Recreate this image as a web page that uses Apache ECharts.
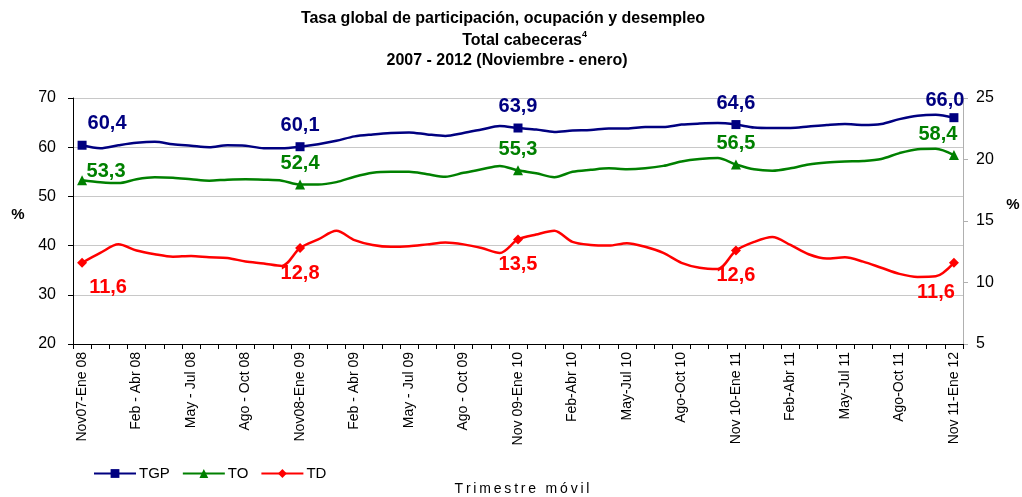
<!DOCTYPE html>
<html>
<head>
<meta charset="utf-8">
<script src="https://cdn.jsdelivr.net/npm/echarts@6/dist/echarts.min.js"></script>
<style>html,body{margin:0;padding:0;background:#fff}#c{width:1022px;height:497px}</style>
</head>
<body>
<div id="c"></div>
<script>
const categories = [
 "Nov07-Ene 08","Dic07-Feb 08","Ene - Mar 08","Feb - Abr 08","Mar - May 08","Abr - Jun 08",
 "May - Jul 08","Jun - Ago 08","Jul - Sep 08","Ago - Oct 08","Sep - Nov 08","Oct - Dic 08",
 "Nov08-Ene 09","Dic08-Feb 09","Ene - Mar 09","Feb - Abr 09","Mar - May 09","Abr - Jun 09",
 "May - Jul 09","Jun - Ago 09","Jul - Sep 09","Ago - Oct 09","Sep - Nov 09","Oct - Dic 09",
 "Nov 09-Ene 10","Dic 09-Feb 10","Ene-Mar 10","Feb-Abr 10","Mar-May 10","Abr-Jun 10",
 "May-Jul 10","Jun-Ago 10","Jul-Sep 10","Ago-Oct 10","Sep-Nov 10","Oct-Dic 10",
 "Nov 10-Ene 11","Dic 10-Feb 11","Ene-Mar 11","Feb-Abr 11","Mar-May 11","Abr-Jun 11",
 "May-Jul 11","Jun-Ago 11","Jul-Sep 11","Ago-Oct 11","Sep-Nov 11","Oct-Dic 11",
 "Nov 11-Ene 12"
];
const tgp = [60.4,59.8,60.4,60.9,61.1,60.6,60.3,60.0,60.4,60.3,59.8,59.8,
 60.1,60.6,61.3,62.2,62.6,62.9,63.0,62.6,62.3,62.9,63.6,64.3,
 63.9,63.6,63.1,63.4,63.5,63.8,63.8,64.1,64.1,64.6,64.8,64.9,
 64.6,64.0,63.9,63.9,64.2,64.5,64.7,64.5,64.7,65.7,66.4,66.6,
 66.0];
const to = [53.3,52.9,52.7,53.5,53.9,53.8,53.5,53.2,53.4,53.5,53.4,53.2,
 52.4,52.4,52.9,54.0,54.8,55.0,55.0,54.5,54.0,54.8,55.5,56.2,
 55.3,54.7,53.9,55.0,55.4,55.7,55.5,55.7,56.2,57.1,57.6,57.8,
 56.5,55.5,55.2,55.7,56.5,56.9,57.1,57.2,57.6,58.8,59.6,59.7,
 58.4];
const td = [11.6,12.4,13.1,12.6,12.3,12.1,12.15,12.05,12.0,11.7,11.55,11.35,
 12.8,13.5,14.2,13.45,13.05,12.9,12.95,13.1,13.25,13.1,12.8,12.4,
 13.5,13.9,14.2,13.3,13.05,13.0,13.2,12.9,12.4,11.6,11.2,11.1,
 12.6,13.3,13.7,13.05,12.3,11.95,12.05,11.7,11.2,10.7,10.45,10.5,
 11.6];
const seriesNames = ["TGP","TO","TD"];
const keyEvery = 12;

const fmt = v => v.toFixed(1).replace('.', ',');

function build(vals, color, pos, dist, firstOff, lastOff) {
  return vals.map((v, i) => {
    if (i % keyEvery !== 0) return {value: v, symbol: 'none'};
    let off = [0, 0];
    if (i === 0) off = firstOff;
    if (i === vals.length - 1) off = lastOff;
    return {
      value: v,
      label: {show: true, position: pos, distance: dist, offset: off,
        formatter: p => fmt(p.value), color: color,
        fontSize: 20, fontWeight: 'bold', fontFamily: 'Liberation Sans, Arial, sans-serif'}
    };
  });
}

const chart = echarts.init(document.getElementById('c'), null, {renderer: 'canvas'});
const font = 'Liberation Sans, Arial, sans-serif';
const spaced = s => s.split('').join('\u2009');
chart.setOption({
  animation: false,
  backgroundColor: '#fff',
  grid: {left: 73, right: 59, top: 98, bottom: 153},
  graphic: [
    {type: 'text', x: 503, y: 19, style: {text: 'Tasa global de participación, ocupación y desempleo', font: 'bold 16px ' + font, fill: '#000', textAlign: 'center', textVerticalAlign: 'middle'}},
    {type: 'text', x: 582, y: 41, style: {text: 'Total cabeceras', font: 'bold 16px ' + font, fill: '#000', textAlign: 'right', textVerticalAlign: 'middle'}},
    {type: 'text', x: 582, y: 35, style: {text: '4', font: 'bold 9px ' + font, fill: '#000', textAlign: 'left', textVerticalAlign: 'middle'}},
    {type: 'text', x: 507, y: 61, style: {text: '2007 - 2012 (Noviembre - enero)', font: 'bold 16px ' + font, fill: '#000', textAlign: 'center', textVerticalAlign: 'middle'}},
    {type: 'text', x: 18, y: 215, style: {text: '%', font: 'bold 15px ' + font, fill: '#000', textAlign: 'center', textVerticalAlign: 'middle'}},
    {type: 'text', x: 1013, y: 205, style: {text: '%', font: 'bold 15px ' + font, fill: '#000', textAlign: 'center', textVerticalAlign: 'middle'}},
    {type: 'text', x: 522, y: 489, style: {text: spaced('Trimestre móvil'), font: '14px ' + font, fill: '#000', textAlign: 'center', textVerticalAlign: 'middle'}}
  ],
  legend: {
    left: 88, top: 461, itemWidth: 42, itemHeight: 11, itemGap: 12,
    textStyle: {fontSize: 15, color: '#000', fontFamily: font, padding: [0, 0, 0, -2]},
    data: seriesNames
  },
  xAxis: {
    type: 'category', data: categories, boundaryGap: true,
    axisLine: {lineStyle: {color: '#000', width: 1}},
    axisTick: {show: true, interval: 0, length: 5, lineStyle: {color: '#000'}},
    axisLabel: {interval: 2, rotate: 90, fontSize: 14, color: '#000', fontFamily: font, margin: 8}
  },
  yAxis: [
    {type: 'value', min: 20, max: 70, interval: 10, position: 'left',
     axisLine: {show: true, lineStyle: {color: '#000'}},
     axisTick: {show: true, length: 5, lineStyle: {color: '#000'}},
     axisLabel: {fontSize: 16, color: '#000', fontFamily: font, margin: 17},
     splitLine: {show: true, lineStyle: {color: '#c8c8c8', width: 1}}},
    {type: 'value', min: 5, max: 25, interval: 5, position: 'right',
     axisLine: {show: true, lineStyle: {color: '#b0b0b0'}},
     axisTick: {show: true, length: 5, lineStyle: {color: '#b0b0b0'}},
     axisLabel: {fontSize: 16, color: '#000', fontFamily: font, margin: 13},
     splitLine: {show: false}}
  ],
  series: [
    {name: 'TGP', type: 'line', yAxisIndex: 0, smooth: 0.3, symbol: 'rect', symbolSize: 9, showAllSymbol: true,
     itemStyle: {color: '#000080'}, lineStyle: {width: 2.5, color: '#000080'},
     data: build(tgp, '#000080', 'top', 7, [25, 0], [-9, 4])},
    {name: 'TO', type: 'line', yAxisIndex: 0, smooth: 0.3, symbol: 'triangle', symbolSize: 10, showAllSymbol: true,
     itemStyle: {color: '#008000'}, lineStyle: {width: 2.5, color: '#008000'},
     data: build(to, '#008000', 'top', 6, [24, 12], [-16, 0])},
    {name: 'TD', type: 'line', yAxisIndex: 1, smooth: 0.3, symbol: 'diamond', symbolSize: 10, showAllSymbol: true,
     itemStyle: {color: '#ff0000'}, lineStyle: {width: 2.5, color: '#ff0000'},
     data: build(td, '#ff0000', 'bottom', 10, [26, 0], [-18, 5])}
  ]
});
</script>
</body>
</html>
